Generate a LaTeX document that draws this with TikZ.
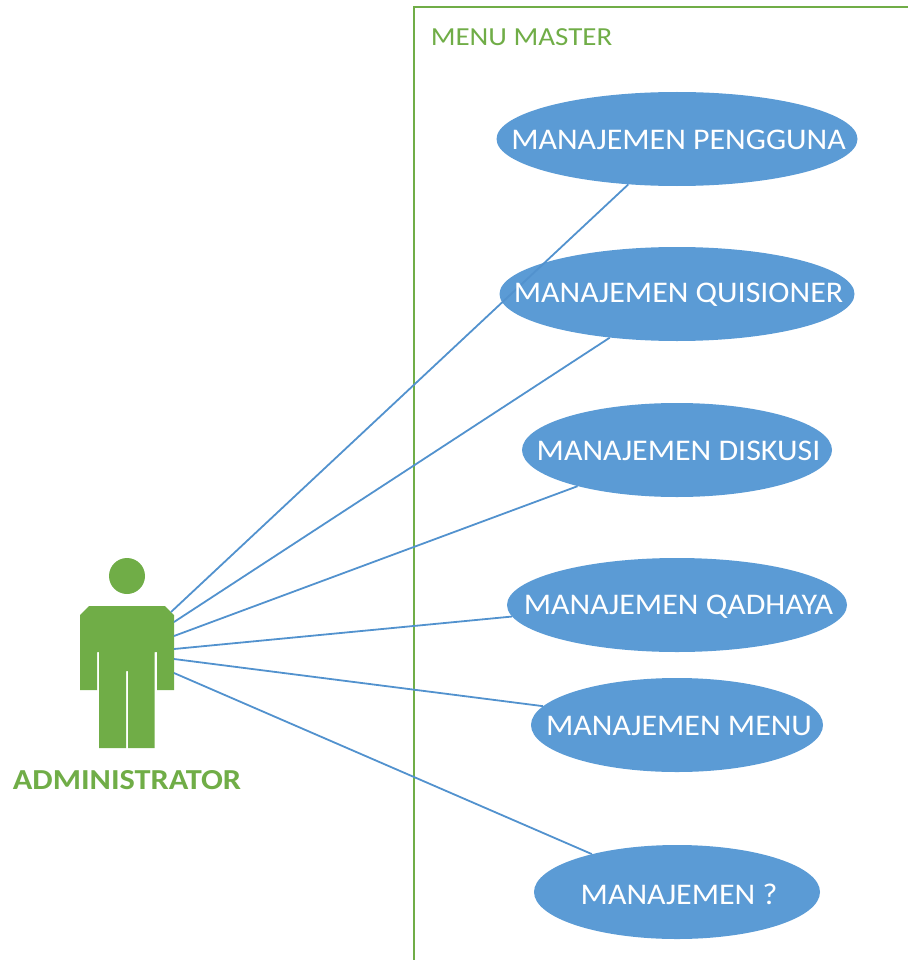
\documentclass[tikz,border=0pt]{standalone}
\usepackage{fontspec}
\setmainfont{Carlito}
\newfontfamily\ucfont[FakeStretch=1.065]{Carlito}
\newfontfamily\titlefont[FakeStretch=1.115]{Carlito}
\newfontfamily\actorfont[FakeStretch=1.115]{Carlito}
\usetikzlibrary{shapes.geometric}
\definecolor{ublue}{HTML}{5B9BD5}
\definecolor{ugreen}{HTML}{70AD47}
\definecolor{uline}{HTML}{5292CE}
\tikzset{
  usecase/.style={ellipse,fill=ublue,inner sep=0pt,minimum height=94pt},
  uclabel/.style={inner sep=0pt,text=white,font=\ucfont\fontsize{30}{32}\selectfont},
  conn/.style={draw=uline,line width=1.8pt},
  greentext/.style={text=ugreen,inner sep=0pt},
}
\begin{document}
\begin{tikzpicture}[x=1pt,y=-1pt]
\useasboundingbox (0,0) rectangle (907,960);
% frame
\draw[ugreen,line width=2.4pt] (414,961) -- (414,7) -- (908,7);
\node[greentext,font=\titlefont\fontsize{26}{28}\selectfont] (title) at (521.5,37) {MENU MASTER};
% use cases
\node[usecase,minimum width=361pt] (e1) at (677,139) {};
\node[usecase,minimum width=355pt] (e2) at (677,294) {};
\node[usecase,minimum width=310pt] (e3) at (677,450) {};
\node[usecase,minimum width=340pt] (e4) at (677,605) {};
\node[usecase,minimum width=292pt] (e5) at (677,725) {};
\node[usecase,minimum width=286pt] (e6) at (677,892) {};
% actor
\fill[ugreen] (127,576) circle (18);
\fill[ugreen] (89,606) -- (165,606) -- (174,615) -- (174,690) -- (157,690) -- (157,652) -- (154.5,652)
  -- (154.5,748) -- (128,748) -- (128,671) -- (126,671) -- (126,748) -- (99,748) -- (99,652) -- (97,652)
  -- (97,690) -- (80,690) -- (80,615) -- cycle;
\node[greentext,font=\actorfont\fontsize{29}{31}\selectfont\bfseries] (actor) at (127,780.5) {ADMINISTRATOR};
\coordinate (a1) at (171,612);
\coordinate (a2) at (174,622);
\coordinate (a3) at (174,636);
\coordinate (a4) at (174,649);
\coordinate (a5) at (174,659);
\coordinate (a6) at (174,673);
% connectors
\draw[conn] (a1) -- (e1.223);
\draw[conn] (a2) -- (e2.213.3);
\draw[conn] (a3) -- (e3.200.7);
\draw[conn] (a4) -- (e4.184.9);
\draw[conn] (a5) -- (e5.172.5);
\draw[conn] (a6) -- (e6.156.7);
% labels
\node[uclabel] (t1) at (678.5,140) {MANAJEMEN PENGGUNA};
\node[uclabel] (t2) at (678.5,295) {MANAJEMEN QUISIONER};
\node[uclabel] (t3) at (678.5,451) {MANAJEMEN DISKUSI};
\node[uclabel] (t4) at (678.5,606.5) {MANAJEMEN QADHAYA};
\node[uclabel] (t5) at (679,726) {MANAJEMEN MENU};
\node[uclabel] (t6) at (679,894) {MANAJEMEN ?};
\end{tikzpicture}
\end{document}
